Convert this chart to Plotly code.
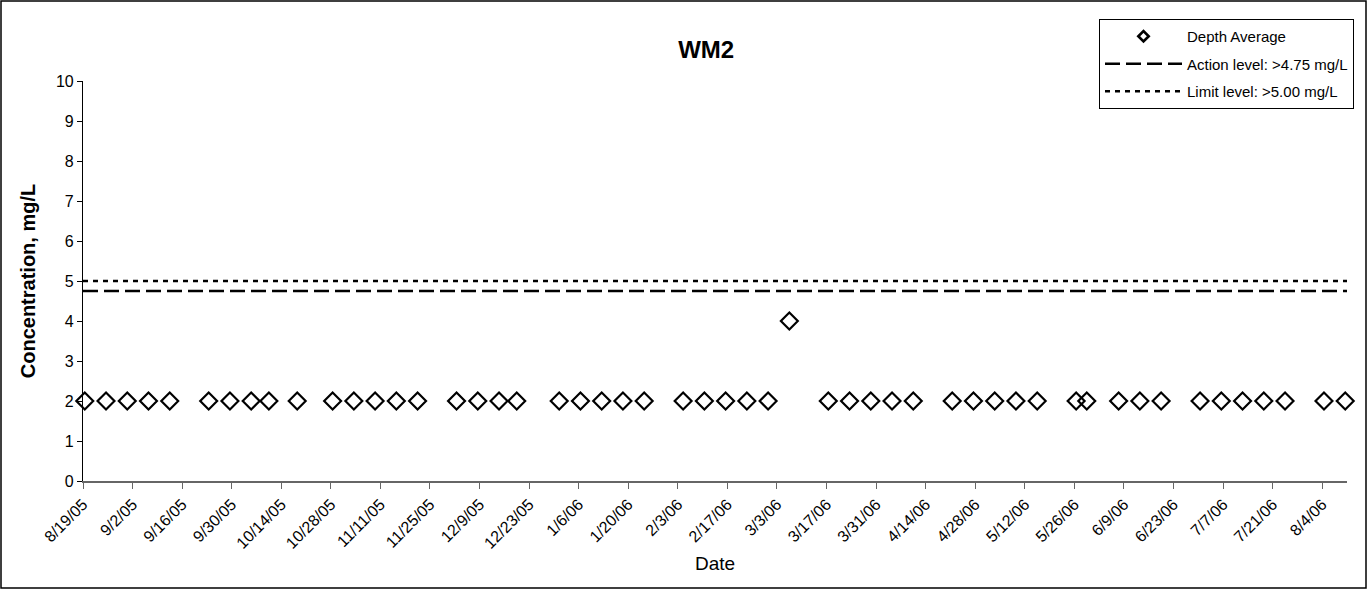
import pandas as pd
import plotly.graph_objects as go

# ---- data ----
sample_dates = [
    "2005-08-19", "2005-08-25", "2005-08-31", "2005-09-06", "2005-09-12",
    "2005-09-23", "2005-09-29", "2005-10-05", "2005-10-10", "2005-10-18",
    "2005-10-28", "2005-11-03", "2005-11-09", "2005-11-15", "2005-11-21",
    "2005-12-02", "2005-12-08", "2005-12-14", "2005-12-19", "2005-12-31",
    "2006-01-06", "2006-01-12", "2006-01-18", "2006-01-24", "2006-02-04",
    "2006-02-10", "2006-02-16", "2006-02-22", "2006-02-28", "2006-03-06",
    "2006-03-17", "2006-03-23", "2006-03-29", "2006-04-04", "2006-04-10",
    "2006-04-21", "2006-04-27", "2006-05-03", "2006-05-09", "2006-05-15",
    "2006-05-26", "2006-05-29", "2006-06-07", "2006-06-13", "2006-06-19",
    "2006-06-30", "2006-07-06", "2006-07-12", "2006-07-18", "2006-07-24",
    "2006-08-04", "2006-08-10",
]
depth_average = [
    2, 2, 2, 2, 2,
    2, 2, 2, 2, 2,
    2, 2, 2, 2, 2,
    2, 2, 2, 2, 2,
    2, 2, 2, 2, 2,
    2, 2, 2, 2, 4,
    2, 2, 2, 2, 2,
    2, 2, 2, 2, 2,
    2, 2, 2, 2, 2,
    2, 2, 2, 2, 2,
    2, 2,
]
action_level = 4.75
limit_level = 5.00
axis_start = "2005-08-19"
axis_end = "2006-08-11"
series_names = ["Depth Average", "Action level: >4.75 mg/L", "Limit level: >5.00 mg/L"]

FONT = "Arial, Liberation Sans, sans-serif"

# Excel-style date axis: points sit in the middle of their day
x_pts = pd.to_datetime(sample_dates) + pd.Timedelta(hours=12)
x_lim = [axis_start, axis_end]

fig = go.Figure()
fig.add_trace(go.Scatter(
    x=x_pts, y=depth_average, mode="markers", name=series_names[0],
    marker=dict(symbol="diamond-open", size=13, color="black",
                line=dict(color="black", width=2.2)),
    showlegend=False, cliponaxis=False,
))
# legend entry for the markers (smaller symbol, as in the original legend)
fig.add_trace(go.Scatter(
    x=[None], y=[None], mode="markers", name=series_names[0],
    marker=dict(symbol="diamond-open", size=8, color="black",
                line=dict(color="black", width=2.6)),
    legendgroup="a",
))
fig.add_trace(go.Scatter(
    x=x_lim, y=[action_level, action_level], mode="lines", name=series_names[1],
    line=dict(color="black", width=2.6, dash="15px,6px"), legendgroup="b",
))
fig.add_trace(go.Scatter(
    x=x_lim, y=[limit_level, limit_level], mode="lines", name=series_names[2],
    line=dict(color="black", width=2.6, dash="5px,5px"), legendgroup="c",
))

L, R, T, B = 83, 20, 81, 108
W, H = 1367, 589
pw, ph = W - L - R, H - T - B

fig.update_layout(
    width=W, height=H,
    margin=dict(l=L, r=R, t=T, b=B),
    paper_bgcolor="white", plot_bgcolor="white",
    font=dict(family=FONT, size=15, color="black"),
    title=dict(text="<b>WM2</b>", x=0.493, xref="paper", xanchor="center",
               y=1 - 50 / H, yref="container", yanchor="middle",
               font=dict(family=FONT, size=24, color="black")),
    showlegend=True,
    legend=dict(x=(1354 - L) / pw, y=(H - B - 19) / ph, xanchor="right", yanchor="top",
                bordercolor="black", borderwidth=1, bgcolor="white",
                font=dict(family=FONT, size=15, color="black"),
                tracegroupgap=5, itemwidth=77,
                entrywidth=180, entrywidthmode="pixels"),
    xaxis=dict(
        type="date", range=x_lim,
        tick0=axis_start, dtick=14 * 86400000, tickformat="%-m/%-d/%y",
        tickangle=-45, ticks="outside", ticklen=6, tickcolor="#666",
        showline=True, linecolor="#666", linewidth=1.5,
        showgrid=False, zeroline=False,
        tickfont=dict(family=FONT, size=16, color="black"),
        title=dict(text="Date", font=dict(family=FONT, size=19, color="black"), standoff=6),
    ),
    yaxis=dict(
        range=[0, 10], dtick=1, ticks="outside", ticklen=5, tickcolor="black",
        showline=True, linecolor="black", linewidth=1.2,
        showgrid=False, zeroline=False,
        tickfont=dict(family=FONT, size=16, color="black"),
        title=dict(text="<b>Concentration, mg/L</b>",
                   font=dict(family=FONT, size=20, color="black"), standoff=14),
    ),
)

# outer chart frame
fig.add_shape(type="rect", xref="paper", yref="paper",
              x0=(1 - L) / pw, x1=(W - 1 - L) / pw,
              y0=-(B - 1) / ph, y1=1 + (T - 1) / ph,
              line=dict(color="black", width=1.5), fillcolor="rgba(0,0,0,0)",
              layer="below")

fig.write_html("out.html", config={"displayModeBar": False},
               post_script="document.body.style.margin='0';")
